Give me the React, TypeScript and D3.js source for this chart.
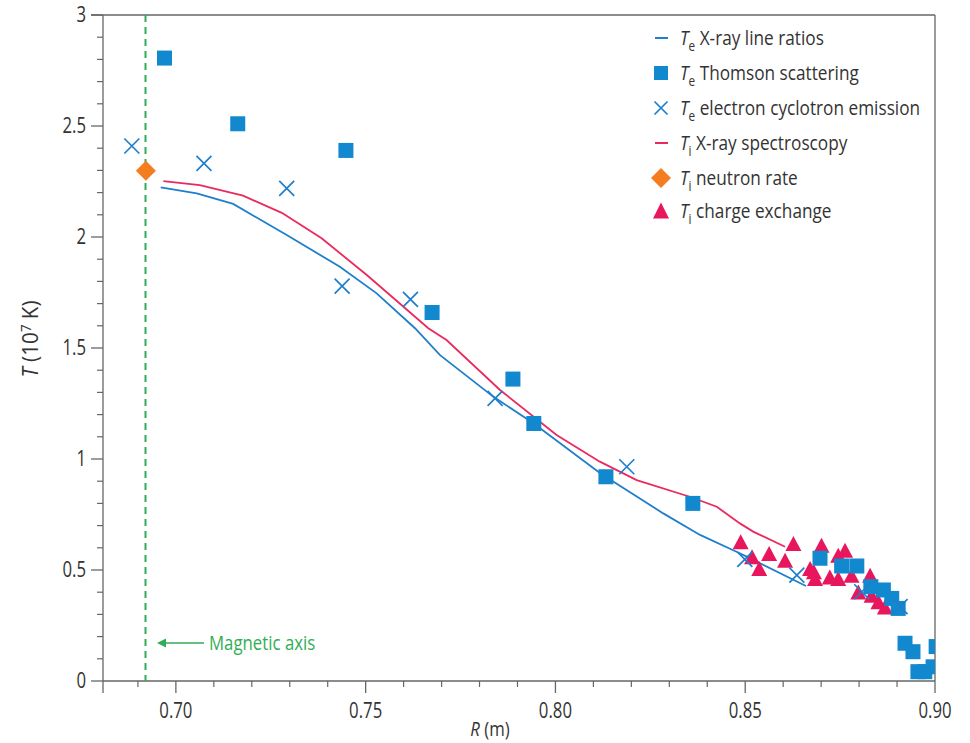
import React from 'react';
import * as d3 from 'd3';

const W = 970, H = 743;

// ---- data ----
const teLineR = [0.696, 0.7055, 0.7151, 0.7292, 0.7432, 0.7529, 0.763, 0.7696, 0.7836, 0.7942, 0.8118, 0.8284, 0.8381, 0.8477, 0.8504, 0.866];
const teLineT = [2.224, 2.197, 2.149, 2.009, 1.866, 1.746, 1.589, 1.468, 1.281, 1.161, 0.936, 0.755, 0.658, 0.582, 0.56, 0.428];

const tiLineR = [0.6967, 0.7063, 0.7177, 0.7279, 0.7384, 0.7503, 0.7665, 0.7713, 0.7854, 0.8003, 0.8117, 0.8214, 0.8354, 0.8425, 0.8486, 0.8521, 0.8605];
const tiLineT = [2.252, 2.234, 2.186, 2.109, 1.994, 1.829, 1.589, 1.536, 1.311, 1.108, 0.988, 0.905, 0.83, 0.785, 0.71, 0.673, 0.605];

const thomsonR = [0.697, 0.7163, 0.7448, 0.7675, 0.7888, 0.7943, 0.8133, 0.8362, 0.8697, 0.8754, 0.8794, 0.8831, 0.8864, 0.8886, 0.8903, 0.8921, 0.8942, 0.8955, 0.8973, 0.8995, 0.9003];
const thomsonT = [2.806, 2.51, 2.39, 1.66, 1.36, 1.16, 0.92, 0.80, 0.553, 0.518, 0.518, 0.425, 0.41, 0.372, 0.327, 0.17, 0.132, 0.042, 0.042, 0.064, 0.155];

const eceR = [0.6884, 0.7074, 0.7292, 0.7438, 0.7618, 0.7841, 0.8188, 0.8499, 0.8636, 0.8807, 0.8908];
const eceT = [2.41, 2.332, 2.219, 1.779, 1.719, 1.273, 0.965, 0.548, 0.477, 0.402, 0.335];

const neutronR = [0.6921];
const neutronT = [2.298];

const cxR = [0.8488, 0.8518, 0.8537, 0.8563, 0.8605, 0.8627, 0.8671, 0.8681, 0.8684, 0.8701, 0.8723, 0.8745, 0.8763, 0.8745, 0.878, 0.8829, 0.8798, 0.8833, 0.8851, 0.8868];
const cxT = [0.62, 0.553, 0.50, 0.568, 0.537, 0.613, 0.50, 0.485, 0.455, 0.605, 0.462, 0.56, 0.582, 0.455, 0.47, 0.47, 0.394, 0.38, 0.35, 0.327];

const magneticAxisR = 0.692;

const xMajorTicks = [0.70, 0.75, 0.80, 0.85, 0.90];
const xTickLabels = ['0.70', '0.75', '0.80', '0.85', '0.90'];
const xMinorTicks = [0.69, 0.71, 0.72, 0.73, 0.74, 0.76, 0.77, 0.78, 0.79, 0.81, 0.82, 0.83, 0.84, 0.86, 0.87, 0.88, 0.89];
const yMajorTicks = [0, 0.5, 1, 1.5, 2, 2.5, 3];
const yTickLabels = ['0', '0.5', '1', '1.5', '2', '2.5', '3'];
const yMinorTicks = d3.range(1, 30).filter((i) => i % 5 !== 0).map((i) => i / 10);

const legendSub = ['e', 'e', 'e', 'i', 'i', 'i'];
const legendText = ['X-ray line ratios', 'Thomson scattering', 'electron cyclotron emission', 'X-ray spectroscopy', 'neutron rate', 'charge exchange'];

// ---- style ----
const BLUE = '#1288cf';
const LINEBLUE = '#1f7fcc';
const RED = '#e8175d';
const LINERED = '#ea2a5e';
const ORANGE = '#f47d20';
const GREEN = '#2fae55';
const AXIS = '#666';
const TEXT = '#333';
const FONT = '"Open Sans", Lato, sans-serif';
const SX = 0.84; // narrow the text like the reference's condensed face

const L = 103, R = 935, T = 15, B = 681;
const x = d3.scaleLinear().domain([0.6808, 0.90]).range([L, R]);
const y = d3.scaleLinear().domain([0, 3]).range([B, T]);

const lineGen = d3.line<[number, number]>().x((d) => x(d[0])).y((d) => y(d[1])).curve(d3.curveLinear);
const zip = (a: number[], b: number[]) => a.map((v, i) => [v, b[i]] as [number, number]);

const Square = ({ cx, cy, s = 15 }: any) => <rect x={cx - s / 2} y={cy - s / 2} width={s} height={s} fill={BLUE} />;
const Cross = ({ cx, cy, s = 7.5 }: any) => (
  <path d={`M${cx - s},${cy - s}L${cx + s},${cy + s}M${cx - s},${cy + s}L${cx + s},${cy - s}`} stroke={LINEBLUE} strokeWidth={1.7} fill="none" />
);
const Tri = ({ cx, cy, w = 16, h = 15 }: any) => (
  <path d={`M${cx},${cy - h * 0.6}L${cx + w / 2},${cy + h * 0.4}L${cx - w / 2},${cy + h * 0.4}Z`} fill={RED} />
);
const Diamond = ({ cx, cy, s = 10 }: any) => (
  <path d={`M${cx},${cy - s}L${cx + s},${cy}L${cx},${cy + s}L${cx - s},${cy}Z`} fill={ORANGE} />
);

export default function App() {
  const legendY = [38, 73, 108, 143, 178, 211];
  const lx = 661;
  const tx = 680;
  return (
    <svg width={W} height={H} style={{ position: 'absolute', left: 0, top: 0 }} fontFamily={FONT}>
      <defs>
        <clipPath id="plot">
          <rect x={L} y={0} width={R - L} height={B} />
        </clipPath>
      </defs>
      <rect x={0} y={0} width={W} height={H} fill="#fff" />

      {/* frame */}
      <line x1={91} x2={R} y1={T} y2={T} stroke={AXIS} strokeWidth={1.3} />
      <line x1={R} x2={R} y1={T} y2={B} stroke={AXIS} strokeWidth={1.3} />
      <line x1={L} x2={L} y1={T} y2={B} stroke={AXIS} strokeWidth={1.3} />
      <line x1={L} x2={R} y1={B} y2={B} stroke={AXIS} strokeWidth={1.3} />

      {/* y ticks */}
      {yMajorTicks.map((t, i) => (
        <g key={'ym' + i}>
          <line x1={91} x2={L} y1={y(t)} y2={y(t)} stroke={AXIS} strokeWidth={1.3} />
          <text transform={`translate(86,${y(t)}) scale(${SX * 0.95},1)`} dy="0.35em" textAnchor="end" fontSize={21} fill={TEXT}>{yTickLabels[i]}</text>
        </g>
      ))}
      {yMinorTicks.map((t, i) => (
        <line key={'yn' + i} x1={97} x2={L} y1={y(t)} y2={y(t)} stroke={AXIS} strokeWidth={1.2} />
      ))}

      {/* x ticks */}
      <line x1={L} x2={L} y1={B} y2={B + 12} stroke={AXIS} strokeWidth={1.3} />
      {xMajorTicks.map((t, i) => (
        <g key={'xm' + i}>
          <line x1={x(t)} x2={x(t)} y1={B} y2={B + 12} stroke={AXIS} strokeWidth={1.3} />
          <text transform={`translate(${x(t)},711) scale(${SX * 0.95},1)`} dy="0.35em" textAnchor="middle" fontSize={21} fill={TEXT}>{xTickLabels[i]}</text>
        </g>
      ))}
      {xMinorTicks.map((t, i) => (
        <line key={'xn' + i} x1={x(t)} x2={x(t)} y1={B} y2={B + 6} stroke={AXIS} strokeWidth={1.2} />
      ))}

      {/* axis labels */}
      <text transform={`translate(490,730) scale(${SX},1)`} dy="0.3em" textAnchor="middle" fontSize={20} fill={TEXT}>
        <tspan fontStyle="italic">R</tspan> (m)
      </text>
      <text transform={`translate(31,339) rotate(-90) scale(0.98,1)`} textAnchor="middle" dy="0.35em" fontSize={21} fill={TEXT}>
        <tspan fontStyle="italic">T</tspan> (10<tspan dy={-7} fontSize={14}>7</tspan><tspan dy={7}> K)</tspan>
      </text>

      {/* magnetic axis */}
      <line x1={x(magneticAxisR)} x2={x(magneticAxisR)} y1={T} y2={B} stroke={GREEN} strokeWidth={2} strokeDasharray="7,5" />
      <line x1={160} x2={204} y1={643} y2={643} stroke={GREEN} strokeWidth={1.6} />
      <path d="M157,643L166,638.5L166,647.5Z" fill={GREEN} />
      <text transform={`translate(209,643) scale(${SX},1)`} dy="0.35em" fontSize={20} fill={GREEN}>Magnetic axis</text>

      <g clipPath="url(#plot)">
        <path d={lineGen(zip(teLineR, teLineT)) || ''} fill="none" stroke={LINEBLUE} strokeWidth={1.8} />
        <path d={lineGen(zip(tiLineR, tiLineT)) || ''} fill="none" stroke={LINERED} strokeWidth={1.8} />
        {cxR.map((r, i) => <Tri key={'cx' + i} cx={x(r)} cy={y(cxT[i])} />)}
        {thomsonR.map((r, i) => <Square key={'th' + i} cx={x(r)} cy={y(thomsonT[i])} />)}
        {eceR.map((r, i) => <Cross key={'ec' + i} cx={x(r)} cy={y(eceT[i])} />)}
        {neutronR.map((r, i) => <Diamond key={'ne' + i} cx={x(r)} cy={y(neutronT[i])} />)}
      </g>

      {/* legend */}
      <g>
        <line x1={lx - 6} x2={lx + 7} y1={legendY[0]} y2={legendY[0]} stroke={LINEBLUE} strokeWidth={2} />
        <Square cx={lx} cy={legendY[1]} s={14} />
        <Cross cx={lx} cy={legendY[2]} s={6.5} />
        <line x1={lx - 6} x2={lx + 7} y1={legendY[3]} y2={legendY[3]} stroke={LINERED} strokeWidth={2} />
        <Diamond cx={lx} cy={legendY[4]} s={10} />
        <Tri cx={lx} cy={legendY[5] + 1} w={16} h={16} />
        {legendText.map((t, i) => (
          <text key={'lt' + i} transform={`translate(${tx},${legendY[i]}) scale(${SX},1)`} dy="0.35em" fontSize={20.5} fill={TEXT}>
            <tspan fontStyle="italic">T</tspan>
            <tspan dy={6} fontSize={14}>{legendSub[i]}</tspan>
            <tspan dy={-6}> {t}</tspan>
          </text>
        ))}
      </g>
    </svg>
  );
}
